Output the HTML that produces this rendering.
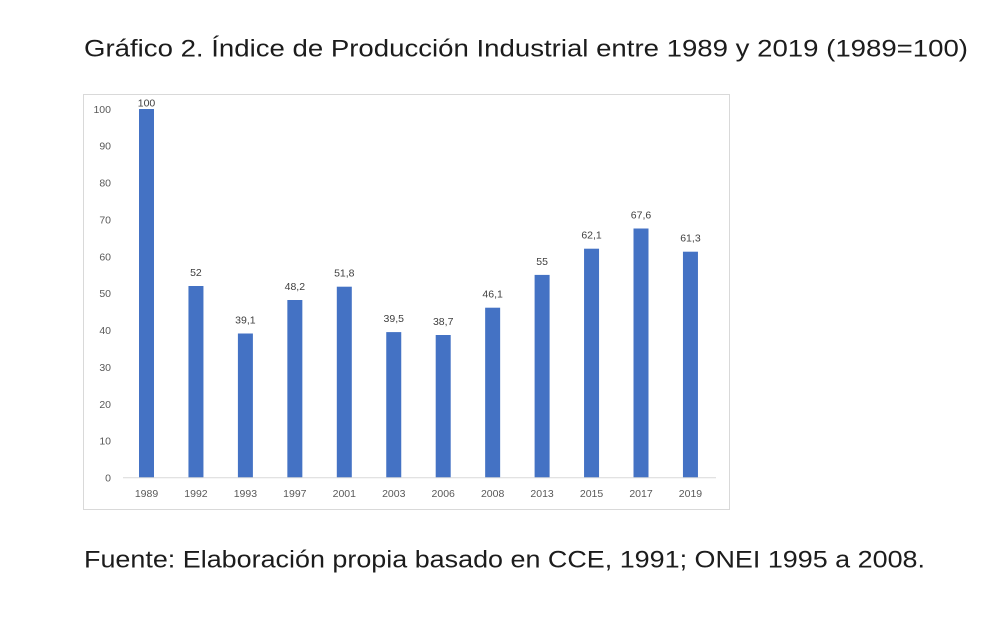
<!DOCTYPE html>
<html>
<head>
<meta charset="utf-8">
<style>
  html,body{margin:0;padding:0;background:#fff;}
  body{width:1000px;height:627px;overflow:hidden;}
  svg{display:block;}
</style>
</head>
<body>
<svg width="1000" height="627" viewBox="0 0 1000 627" xmlns="http://www.w3.org/2000/svg">
  <rect x="0" y="0" width="1000" height="627" fill="#ffffff"/>
  <!-- Title -->
  <text x="84" y="56.5" font-family="Liberation Sans, sans-serif" font-size="24.5" fill="#1c1c1c" textLength="884" lengthAdjust="spacingAndGlyphs">Gráfico 2. Índice de Producción Industrial entre 1989 y 2019 (1989=100)</text>

  <!-- Chart frame -->
  <rect x="83.5" y="94.5" width="646" height="415" fill="#ffffff" stroke="#d9d9d9" stroke-width="1"/>

  <!-- Y axis labels -->
  <g font-family="Liberation Sans, sans-serif" font-size="10.5" fill="#595959" text-anchor="end">
    <text x="111" y="481.5">0</text>
    <text x="111" y="444.6">10</text>
    <text x="111" y="407.8">20</text>
    <text x="111" y="370.9">30</text>
    <text x="111" y="334.0">40</text>
    <text x="111" y="297.1">50</text>
    <text x="111" y="260.3">60</text>
    <text x="111" y="223.4">70</text>
    <text x="111" y="186.5">80</text>
    <text x="111" y="149.6">90</text>
    <text x="111" y="112.8">100</text>
  </g>

  <!-- Bars -->
  <g fill="#4472c4">
    <rect x="139.0" y="109.0" width="15" height="368.7"/>
    <rect x="188.45" y="286.0" width="15" height="191.7"/>
    <rect x="237.9" y="333.5" width="15" height="144.2"/>
    <rect x="287.35" y="300.0" width="15" height="177.7"/>
    <rect x="336.8" y="286.7" width="15" height="191.0"/>
    <rect x="386.25" y="332.1" width="15" height="145.6"/>
    <rect x="435.7" y="335.0" width="15" height="142.7"/>
    <rect x="485.15" y="307.7" width="15" height="170.0"/>
    <rect x="534.6" y="274.9" width="15" height="202.8"/>
    <rect x="584.05" y="248.7" width="15" height="229.0"/>
    <rect x="633.5" y="228.5" width="15" height="249.2"/>
    <rect x="682.95" y="251.7" width="15" height="226.0"/>
  </g>

  <!-- Axis line -->
  <line x1="123" y1="477.7" x2="716" y2="477.7" stroke="#d9d9d9" stroke-width="1"/>

  <!-- Data labels -->
  <g font-family="Liberation Sans, sans-serif" font-size="10.5" fill="#404040" text-anchor="middle">
    <text x="146.5" y="106.5">100</text>
    <text x="195.95" y="276">52</text>
    <text x="245.4" y="323.5">39,1</text>
    <text x="294.85" y="290">48,2</text>
    <text x="344.3" y="276.7">51,8</text>
    <text x="393.75" y="322.1">39,5</text>
    <text x="443.2" y="325">38,7</text>
    <text x="492.65" y="297.7">46,1</text>
    <text x="542.1" y="264.9">55</text>
    <text x="591.55" y="238.7">62,1</text>
    <text x="641.0" y="218.5">67,6</text>
    <text x="690.45" y="241.7">61,3</text>
  </g>

  <!-- X axis labels -->
  <g font-family="Liberation Sans, sans-serif" font-size="10.5" fill="#595959" text-anchor="middle">
    <text x="146.5" y="497">1989</text>
    <text x="195.95" y="497">1992</text>
    <text x="245.4" y="497">1993</text>
    <text x="294.85" y="497">1997</text>
    <text x="344.3" y="497">2001</text>
    <text x="393.75" y="497">2003</text>
    <text x="443.2" y="497">2006</text>
    <text x="492.65" y="497">2008</text>
    <text x="542.1" y="497">2013</text>
    <text x="591.55" y="497">2015</text>
    <text x="641.0" y="497">2017</text>
    <text x="690.45" y="497">2019</text>
  </g>

  <!-- Footer -->
  <text x="84" y="567.5" font-family="Liberation Sans, sans-serif" font-size="24.5" fill="#1c1c1c" textLength="841" lengthAdjust="spacingAndGlyphs">Fuente: Elaboración propia basado en CCE, 1991; ONEI 1995 a 2008.</text>
</svg>
</body>
</html>
